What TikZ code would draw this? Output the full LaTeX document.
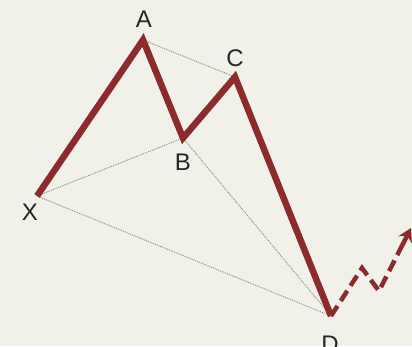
\documentclass[tikz,border=0pt]{standalone}
\usepackage{fontspec}
\setmainfont{Liberation Sans}
\usetikzlibrary{arrows.meta,calc}
\definecolor{bg}{HTML}{F1F1EA}
\definecolor{wave}{HTML}{8C2A2E}
\definecolor{guide}{HTML}{868984}
\tikzset{
  lbl/.style={font=\fontsize{24}{24}\selectfont, text=black!85, inner sep=0pt},
  leg/.style={draw=wave, line width=6.5pt, line join=miter, miter limit=10},
  guideline/.style={draw=guide, line width=0.9pt, densely dotted},
  proj/.style={draw=wave, line width=4.5pt, dash pattern=on 12pt off 6pt}
}
\begin{document}
\begin{tikzpicture}[x=1pt,y=-1pt]
\fill[bg] (0,0) rectangle (412,346);
\useasboundingbox (0,0) rectangle (412,346);
\coordinate (X) at (37,196);
\coordinate (A) at (143,40);
\coordinate (B) at (183,138);
\coordinate (C) at (235,77);
\coordinate (D) at (331,316);
\coordinate (P) at (362,268);
\coordinate (T) at (379,291);
\coordinate (E) at (411,228);
\coordinate (F) at ($(T)!0.72!(E)$);
\draw[guideline] (A) -- (C);
\draw[guideline] (X) -- (B);
\draw[guideline] (B) -- (D);
\draw[guideline] (X) -- (D);
\draw[leg] (X) -- (A) -- (B) -- (C) -- (D);
\draw[proj] (D) -- (P) -- (T) -- (F);
\draw[draw=wave, line width=4.5pt, -{Stealth[length=13pt,width=15pt]}] (F) -- (E);
\node[lbl] (lA) at (144,19) {A};
\node[lbl] (lC) at (235,58) {C};
\node[lbl] (lB) at (183,162) {B};
\node[lbl] (lX) at (30,212) {X};
\node[lbl] (lD) at (330,344) {D};
\end{tikzpicture}
\end{document}
